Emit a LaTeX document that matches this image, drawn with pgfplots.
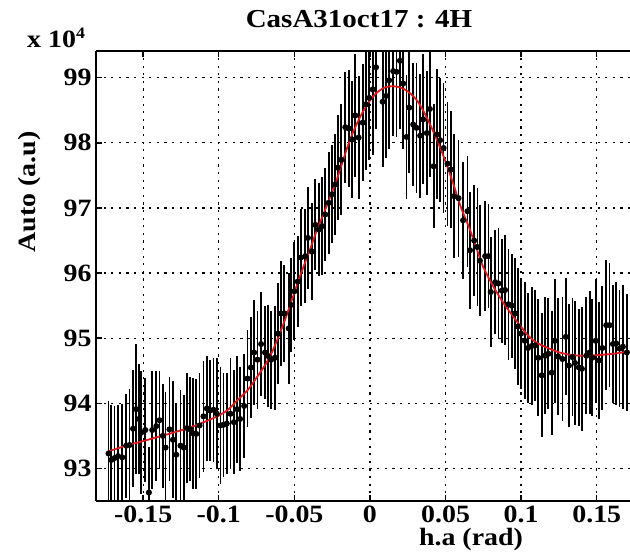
\documentclass[border=0pt]{standalone}
\usepackage{fontspec}
\setmainfont{Liberation Serif}[FakeStretch=1.12]
\usepackage{pgfplots}
\usepackage{pgfplotstable}
\pgfplotsset{compat=1.18}
\usetikzlibrary{calc}
\definecolor{fitred}{RGB}{225,25,25}

% measured points: x (rad), auto (x 1e4), half error bar
\pgfplotstableread{
x y e
-0.1729 93.23 0.80
-0.1711 93.13 0.85
-0.1689 93.16 0.80
-0.1666 93.19 0.78
-0.1638 93.17 0.82
-0.1612 93.35 0.80
-0.1590 93.36 0.86
-0.1567 93.61 0.90
-0.1546 93.91 1.00
-0.1528 93.76 0.85
-0.1513 93.55 0.95
-0.1486 93.59 0.80
-0.1462 92.63 0.70
-0.1440 93.59 0.90
-0.1413 93.65 0.85
-0.1392 93.74 0.75
-0.1370 93.50 0.80
-0.1352 93.32 0.85
-0.1326 93.60 0.80
-0.1303 93.44 0.90
-0.1281 93.21 0.80
-0.1253 93.35 0.85
-0.1231 93.32 0.80
-0.1211 93.62 0.85
-0.1189 93.60 0.80
-0.1170 93.54 0.85
-0.1149 93.53 0.85
-0.1127 93.66 0.80
-0.1101 93.80 0.85
-0.1079 93.92 0.80
-0.1057 93.89 0.78
-0.1035 93.90 0.80
-0.1013 93.84 0.85
-0.0989 93.66 0.90
-0.0969 93.67 0.80
-0.0947 93.69 0.78
-0.0923 93.84 0.85
-0.0900 93.71 0.80
-0.0878 93.91 0.82
-0.0859 93.76 0.80
-0.0832 93.96 0.80
-0.0810 94.38 0.75
-0.0788 94.55 0.78
-0.0766 94.78 0.80
-0.0744 94.67 0.75
-0.0720 94.91 0.80
-0.0694 94.78 0.72
-0.0676 94.73 0.78
-0.0654 94.67 0.75
-0.0629 94.70 0.80
-0.0608 95.07 0.78
-0.0588 95.38 0.80
-0.0566 95.38 0.75
-0.0537 95.15 0.85
-0.0522 95.51 0.72
-0.0500 95.72 0.75
-0.0478 95.87 0.70
-0.0456 96.24 0.75
-0.0427 96.26 0.72
-0.0410 96.54 0.78
-0.0385 96.33 0.75
-0.0361 96.74 0.70
-0.0339 96.67 0.72
-0.0317 96.72 0.75
-0.0295 96.90 0.72
-0.0273 97.08 0.78
-0.0251 97.21 0.75
-0.0229 97.36 0.78
-0.0213 97.62 0.80
-0.0190 97.74 0.85
-0.0163 98.24 0.85
-0.0141 98.22 0.90
-0.0119 98.05 0.90
-0.0097 98.42 0.95
-0.0075 98.08 0.95
-0.0048 98.31 0.90
-0.0026 98.59 1.00
-0.0005 98.69 0.95
0.0018 98.82 1.00
0.0040 99.16 0.95
0.0084 98.63 1.00
0.0106 98.72 0.95
0.0127 98.96 1.05
0.0154 99.10 1.00
0.0176 99.09 1.00
0.0198 99.26 1.05
0.0220 98.91 1.00
0.0242 98.09 0.95
0.0260 98.54 1.00
0.0286 98.28 0.95
0.0308 98.23 1.00
0.0332 98.11 0.95
0.0352 98.36 1.00
0.0376 98.15 0.95
0.0396 98.52 1.05
0.0421 97.64 0.95
0.0443 98.13 1.00
0.0464 98.04 0.95
0.0487 97.92 1.00
0.0513 97.68 0.95
0.0535 97.59 0.90
0.0557 97.18 0.95
0.0586 97.15 0.90
0.0616 96.81 0.90
0.0645 96.95 0.85
0.0662 96.35 0.90
0.0689 96.50 0.85
0.0711 96.40 0.90
0.0727 96.19 0.85
0.0762 96.26 0.85
0.0784 96.26 0.80
0.0799 95.71 0.85
0.0828 95.86 0.80
0.0850 95.84 0.85
0.0872 95.73 0.80
0.0894 95.74 0.85
0.0916 95.52 0.85
0.0938 95.50 0.80
0.0960 95.38 0.85
0.0978 95.18 0.90
0.0999 95.07 0.85
0.1024 94.96 0.90
0.1046 94.85 0.85
0.1070 94.88 0.90
0.1092 94.89 0.85
0.1114 94.70 0.90
0.1136 94.43 0.95
0.1158 94.73 0.90
0.1180 94.76 0.85
0.1202 94.47 0.95
0.1222 94.96 0.95
0.1244 94.72 0.90
0.1273 94.68 0.95
0.1295 95.02 0.90
0.1316 94.58 0.95
0.1339 94.71 0.90
0.1356 94.62 0.95
0.1382 94.55 0.90
0.1402 94.53 0.95
0.1431 94.73 0.90
0.1453 94.78 0.95
0.1471 94.70 0.90
0.1493 94.96 0.95
0.1515 94.66 0.90
0.1537 94.85 0.95
0.1563 95.20 1.00
0.1585 95.20 0.95
0.1607 94.91 0.90
0.1629 94.92 0.95
0.1651 94.84 0.90
0.1673 94.87 0.95
0.1699 94.78 0.90
}\measured

% fitted curve
\pgfplotstableread{
x y
-0.1732 93.26
-0.1600 93.36
-0.1500 93.42
-0.1409 93.48
-0.1300 93.55
-0.1189 93.63
-0.1100 93.71
-0.1002 93.81
-0.0940 93.90
-0.0880 94.04
-0.0810 94.20
-0.0748 94.40
-0.0690 94.60
-0.0649 94.78
-0.0600 95.05
-0.0550 95.36
-0.0500 95.70
-0.0460 95.97
-0.0400 96.34
-0.0357 96.62
-0.0300 96.95
-0.0225 97.40
-0.0154 97.90
-0.0114 98.15
-0.0060 98.42
0.0000 98.65
0.0050 98.78
0.0100 98.85
0.0150 98.87
0.0200 98.85
0.0250 98.79
0.0308 98.66
0.0360 98.46
0.0414 98.20
0.0460 97.95
0.0502 97.70
0.0550 97.38
0.0600 97.02
0.0656 96.70
0.0705 96.38
0.0744 96.12
0.0800 95.86
0.0832 95.73
0.0880 95.55
0.0920 95.42
0.0991 95.20
0.1050 95.03
0.1096 94.94
0.1167 94.86
0.1255 94.78
0.1340 94.74
0.1431 94.73
0.1500 94.74
0.1563 94.75
0.1640 94.77
0.1717 94.80
}\fitted

\begin{document}
\begin{tikzpicture}
\begin{axis}[
  scale only axis, width=534bp, height=450bp,
  xmin=-0.1812, xmax=0.172, ymin=92.5, ymax=99.41,
  axis x line*=box, axis y line*=left,
  axis line style={line width=1.6bp, black},
  tick align=inside, major tick length=6bp,
  tick style={line width=1.4bp, black},
  xtick={-0.15,-0.1,-0.05,0,0.05,0.1,0.15},
  xticklabels={-0.15,-0.1,-0.05,0,0.05,0.1,0.15},
  ytick={93,94,95,96,97,98,99},
  yticklabels={93,94,95,96,97,98,99},
  tick label style={font=\fontsize{25}{25}\selectfont\bfseries},
  xticklabel style={yshift=-1bp},
  yticklabel style={xshift=-1bp},
  grid=major,
  major grid style={black, line width=1.3bp, dash pattern=on 2.2bp off 5.4bp},
]
\addplot[black, line width=1.8bp, mark=*, mark size=2.1bp, only marks,
  error bars/.cd, y dir=both, y explicit, error mark=none,
  error bar style={line width=1.8bp, black}]
  table[x=x, y=y, y error=e] {\measured};
\addplot[fitred, line width=1.8bp, smooth, no markers] table[x=x, y=y] {\fitted};
\coordinate (sw) at (rel axis cs:0,0);
\coordinate (ne) at (rel axis cs:1,1);
\end{axis}
\node[anchor=base, font=\fontsize{26}{26}\selectfont\bfseries] at ($(sw|-ne)+(263bp,23bp)$) {CasA31oct17 : 4H};
\node[anchor=base west, font=\fontsize{25}{25}\selectfont\bfseries, inner sep=0pt] at ($(sw|-ne)+(-69bp,3bp)$) {x 10\raisebox{9bp}{\fontsize{16}{16}\selectfont 4}};
\node[rotate=90, anchor=center, font=\fontsize{25}{25}\selectfont\bfseries] at ($(sw|-ne)+(-66bp,-141bp)$) {Auto (a.u)};
\node[anchor=center, font=\fontsize{25}{25}\selectfont\bfseries] at ($(sw)+(375bp,-39bp)$) {h.a (rad)};
\pgfresetboundingbox
\path ($(sw)+(-96bp,-53bp)$) rectangle ($(ne)+(0,51bp)$);
\end{tikzpicture}
\end{document}
